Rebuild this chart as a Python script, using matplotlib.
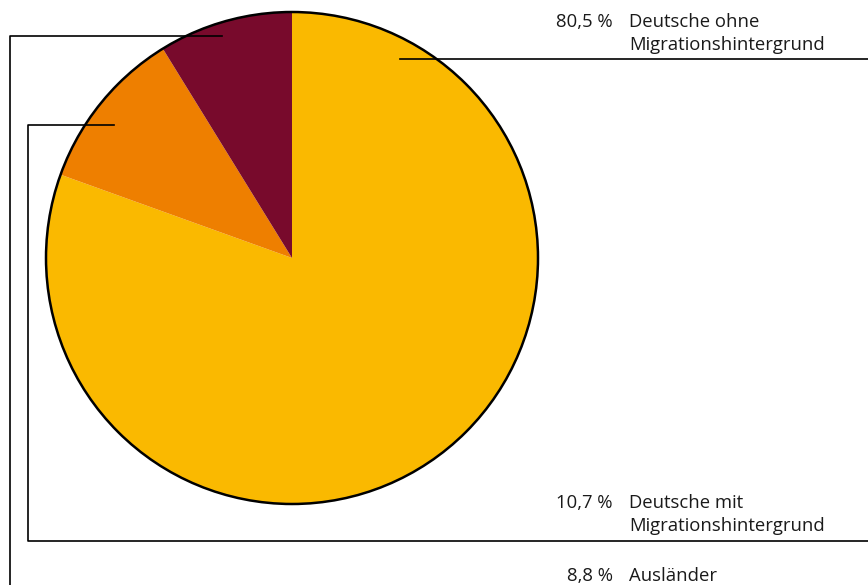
import numpy as np
import matplotlib.pyplot as plt

# data
labels = ["Deutsche ohne\nMigrationshintergrund",
          "Deutsche mit\nMigrationshintergrund",
          "Ausländer"]
shares = [80.5, 10.7, 8.8]
pct_labels = ["80,5 %", "10,7 %", "8,8 %"]
colors = ["#FAB900", "#EE7F00", "#780A2C"]

W, H = 868, 585


def py(y):
    # pixel row (from top) -> data y
    return H - y


fig = plt.figure(figsize=(W / 100, H / 100), dpi=100)
ax = fig.add_axes([0, 0, 1, 1])

cx, cy, R = 292, py(258), 246
wedges, _ = ax.pie(
    shares, colors=colors, startangle=90, counterclock=False,
    center=(cx, cy), radius=R, frame=True,
    wedgeprops=dict(linewidth=0)
)
ax.set_xlim(0, W)
ax.set_ylim(0, H)
ax.set_aspect("equal")
ax.axis("off")
ax.add_patch(plt.Circle((cx, cy), R, fill=False, ec="black", lw=1.8, zorder=3))

lw = 1.2
# Deutsche ohne Migrationshintergrund
ax.plot([400, W], [py(59), py(59)], color="black", lw=lw, zorder=4)
# Deutsche mit Migrationshintergrund
ax.plot([114, 28, 28, W], [py(125), py(125), py(541), py(541)],
        color="black", lw=lw, zorder=4)
# Ausländer
ax.plot([222, 10, 10], [py(36), py(36), py(590)],
        color="black", lw=lw, zorder=4)

font = dict(family="Open Sans", fontsize=13.3, color="#1a1a1a")
text_rows = [21, 502, 575]
for lab, pct, row in zip(labels, pct_labels, text_rows):
    ax.text(613, py(row - 8), pct, ha="right", va="top", **font)
    ax.text(629, py(row - 8), lab, ha="left", va="top", linespacing=1.38,
            **font)

fig.savefig("out.png", dpi=100)
